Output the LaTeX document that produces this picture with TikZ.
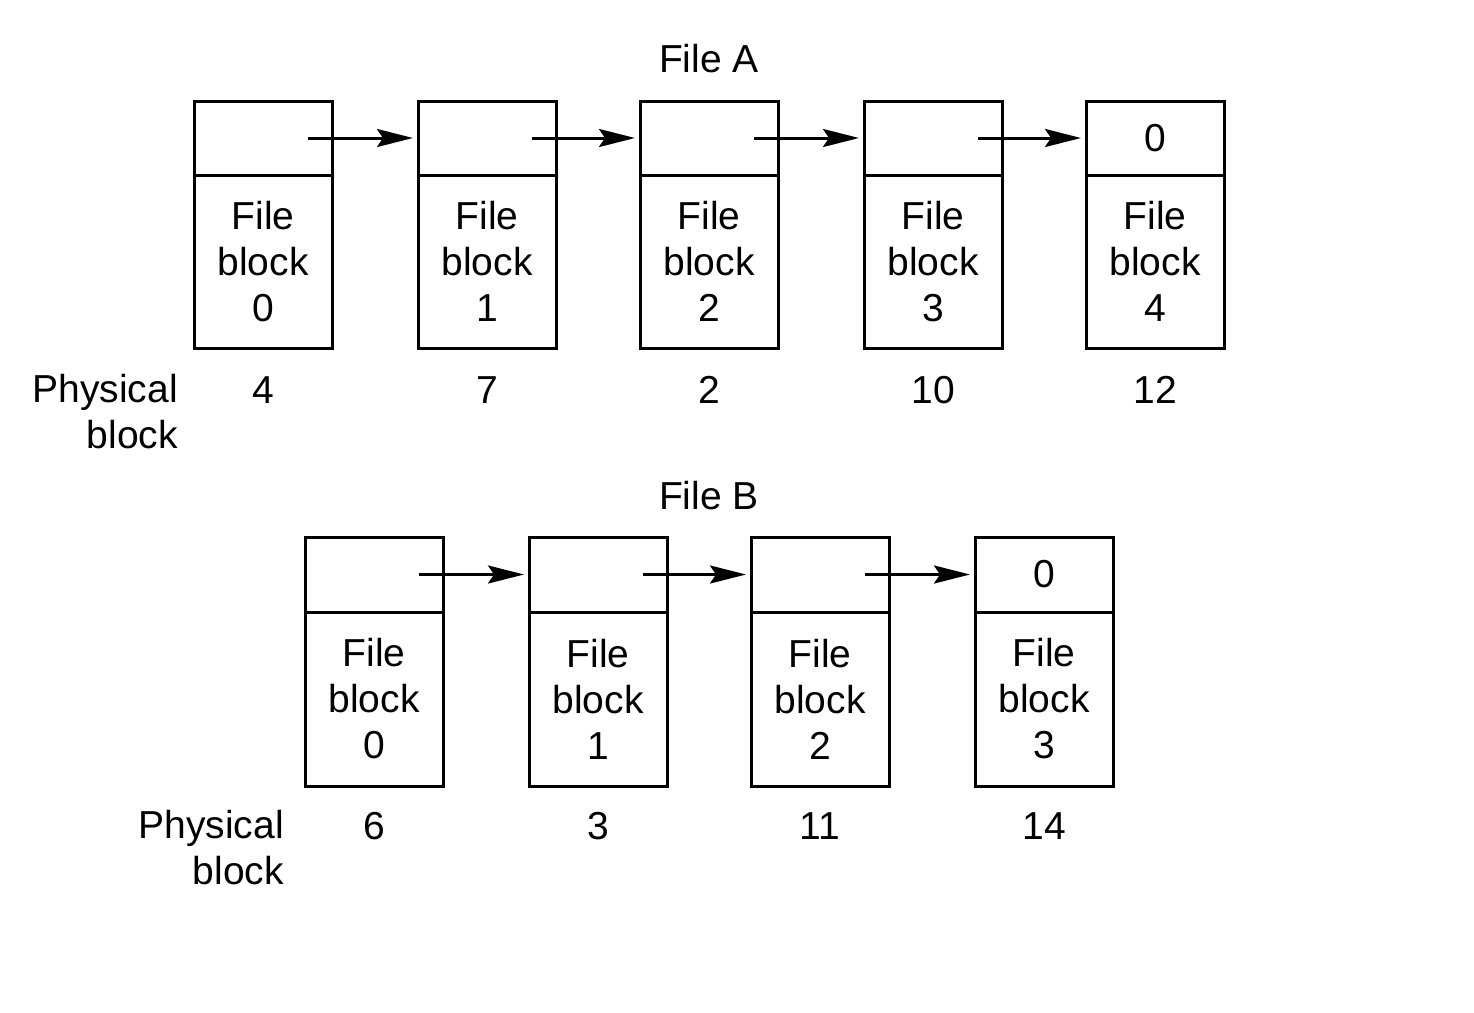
\documentclass[tikz,border=0pt]{standalone}
\usepackage{fontspec}
\setmainfont{Liberation Sans}
\usetikzlibrary{arrows.meta}
\newcommand\bigtxt{\fontsize{39}{46}\selectfont}
\begin{document}
\begin{tikzpicture}[x=1pt,y=-1pt,
  cell/.style={draw, line width=3pt, minimum width=138pt, inner sep=0pt, font=\bigtxt, align=center},
  topcella/.style={cell, minimum height=74pt},
  botcella/.style={cell, minimum height=173pt},
  topcellb/.style={cell, minimum height=75pt},
  botcellb/.style={cell, minimum height=174pt},
  lbl/.style={font=\bigtxt, inner sep=0pt},
  arr/.style={line width=3pt, -{Stealth[length=36pt,width=18pt,inset=6pt]}, shorten >=3.5pt}
]
\useasboundingbox (0,0) rectangle (1474,1012);
\fill[white] (0,0) rectangle (1474,1012);

% File A
\node[lbl, anchor=base] (ta) at (709,72) {File A};
\foreach \i/\cx/\pb in {0/263/4, 1/487/7, 2/709/2, 3/933/10, 4/1155/12}{
  \node[botcella] (a\i b) at (\cx,261.5) {File\\block\\\i};
  \node[lbl, anchor=base] (a\i n) at (\cx,403) {\pb};
}
\node[topcella] (a0t) at (263,138) {};
\node[topcella] (a1t) at (487,138) {};
\node[topcella] (a2t) at (709,138) {};
\node[topcella] (a3t) at (933,138) {};
\node[topcella] (a4t) at (1155,138) {0};
\node[lbl, align=right, anchor=east] (pa) at (178,412) {Physical\\block};
\foreach \i/\j in {0/1,1/2,2/3,3/4}{
  \draw[arr] ([xshift=-25.5pt]a\i t.east) -- (a\j t.west);
}

% File B
\node[lbl, anchor=base] (tb) at (709,509) {File B};
\foreach \i/\cx/\pb in {0/374/6, 1/598/3, 2/820/11, 3/1044/14}{
  \node[botcellb] (b\i b) at (\cx,699) {File\\block\\\i};
  \node[lbl, anchor=base] (b\i n) at (\cx,839) {\pb};
}
\node[topcellb] (b0t) at (374,574.5) {};
\node[topcellb] (b1t) at (598,574.5) {};
\node[topcellb] (b2t) at (820,574.5) {};
\node[topcellb] (b3t) at (1044,574.5) {0};
\node[lbl, align=right, anchor=east] (pb) at (284,848) {Physical\\block};
\foreach \i/\j in {0/1,1/2,2/3}{
  \draw[arr] ([xshift=-25.5pt]b\i t.east) -- (b\j t.west);
}
\end{tikzpicture}
\end{document}
